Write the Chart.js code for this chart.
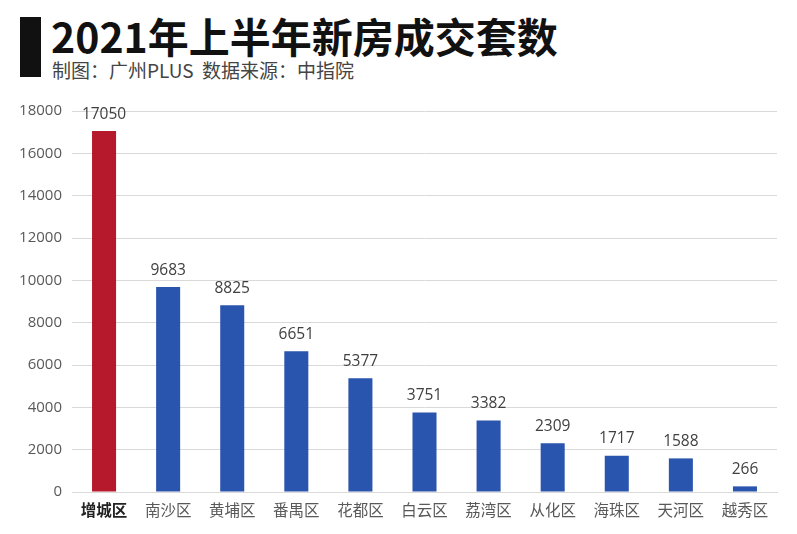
<!DOCTYPE html>
<html><head><meta charset="utf-8">
<script src="https://cdn.jsdelivr.net/npm/chart.js@4/dist/chart.umd.min.js"></script>
<style>
html,body{margin:0;padding:0;background:#fff;width:797px;height:534px;overflow:hidden;}
#wrap{position:relative;width:797px;height:534px;}
#bar{position:absolute;left:20px;top:17px;width:21px;height:60px;background:#111;}
#title{position:absolute;left:51px;top:10px;font-family:"Noto Sans CJK SC","Noto Sans",sans-serif;font-weight:700;font-size:41px;line-height:50px;color:#111;white-space:nowrap;}
#sub{position:absolute;left:52px;top:57px;font-family:"Noto Sans CJK SC","Noto Sans",sans-serif;font-size:19px;line-height:26px;color:#444;white-space:nowrap;}
canvas{position:absolute;left:0;top:0;}
</style></head>
<body><div id="wrap">
<div id="bar"></div>
<div id="title">2021年上半年新房成交套数</div>
<div id="sub">制图：广州PLUS&nbsp;&nbsp;数据来源：中指院</div>
<canvas id="c" width="797" height="534"></canvas>
</div>
<script>
const categories = ["增城区","南沙区","黄埔区","番禺区","花都区","白云区","荔湾区","从化区","海珠区","天河区","越秀区"];
const deals = [17050, 9683, 8825, 6651, 5377, 3751, 3382, 2309, 1717, 1588, 266];
const yTicks = [0,2000,4000,6000,8000,10000,12000,14000,16000,18000];
const highlight = "增城区";

const RED = "#B5192B", BLUE = "#2A55AE";
const FONT = '"Open Sans","Noto Sans CJK SC",sans-serif';

const valueLabels = {
  id: "valueLabels",
  afterDatasetsDraw(chart) {
    const ctx = chart.ctx;
    const meta = chart.getDatasetMeta(0);
    ctx.save();
    ctx.font = '15.5px ' + FONT;
    ctx.fillStyle = "#404040";
    ctx.textAlign = "center";
    ctx.textBaseline = "bottom";
    meta.data.forEach((el, i) => {
      ctx.fillText(String(deals[i]), el.x, el.y - 9);
    });
    ctx.restore();
  }
};

new Chart(document.getElementById("c"), {
  type: "bar",
  data: {
    labels: categories,
    datasets: [{
      data: deals,
      backgroundColor: categories.map(c => c === highlight ? RED : BLUE),
      barPercentage: 0.375,
      categoryPercentage: 1.0,
      borderWidth: 0
    }]
  },
  options: {
    responsive: false,
    animation: false,
    devicePixelRatio: 1,
    layout: { padding: { top: 111, right: 20, bottom: 0, left: 0 } },
    plugins: { legend: { display: false }, tooltip: { enabled: false } },
    scales: {
      x: {
        grid: { display: false, drawTicks: false },
        border: { display: true, color: "#d9d9d9", width: 1 },
        ticks: {
          padding: 10,
          color: (ctx) => ctx.index === 0 ? "#222" : "#595959",
          font: (ctx) => ({ family: FONT, size: 15.5, weight: ctx.index === 0 ? "bold" : "normal" })
        },
        afterFit(scale) { scale.height = 42; }
      },
      y: {
        min: 0, max: 18000,
        afterBuildTicks(scale) { scale.ticks = yTicks.map(v => ({ value: v })); },
        grid: { color: "#d9d9d9", drawTicks: false, lineWidth: 1 },
        border: { display: false },
        ticks: { padding: 10, color: "#595959", font: { family: FONT, size: 15 }, callback: (v) => String(v) },
        afterFit(scale) { scale.width = 72; }
      }
    }
  },
  plugins: [valueLabels]
});
</script>
</body></html>
